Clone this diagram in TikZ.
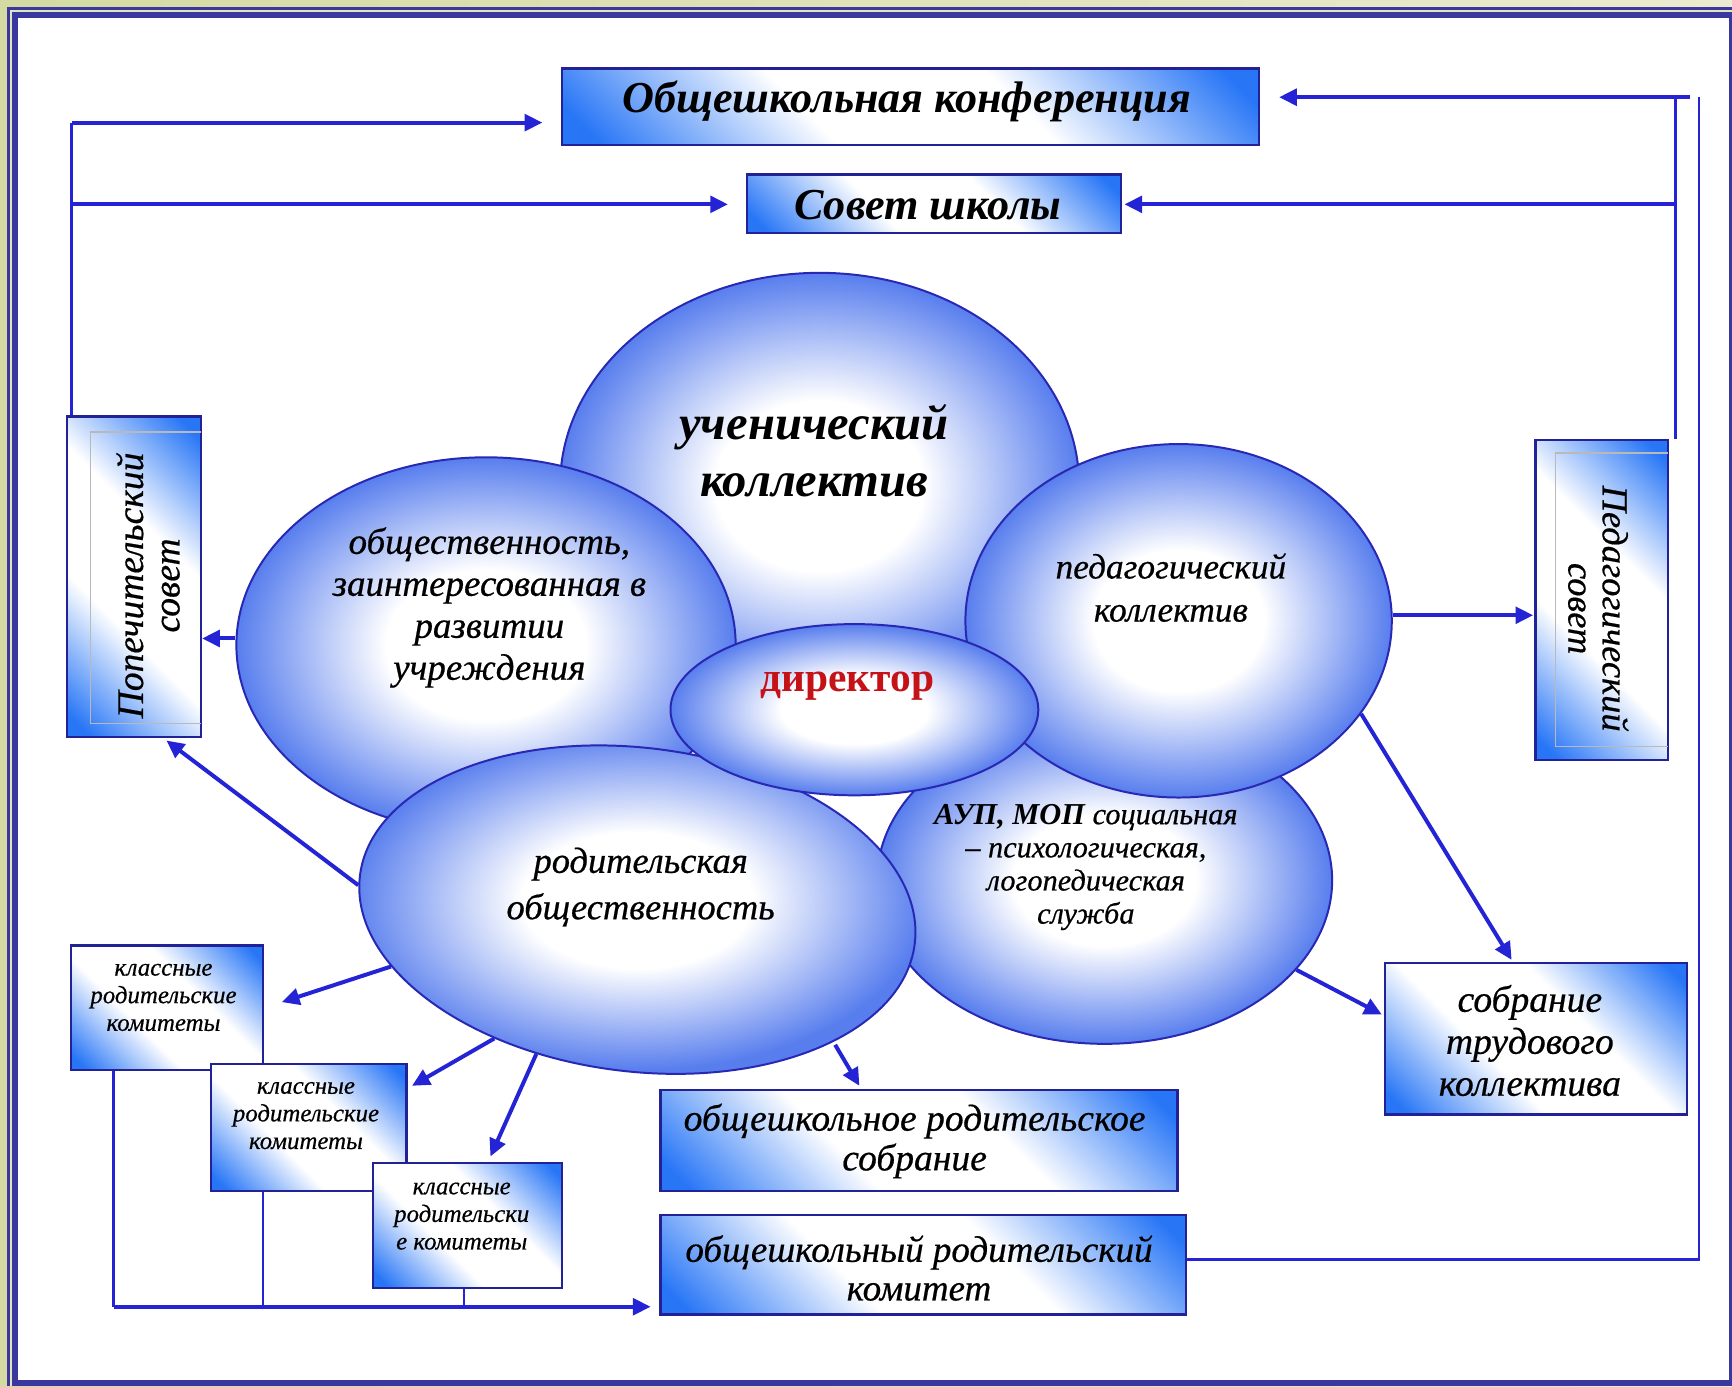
\documentclass[tikz,border=0pt]{standalone}
\usepackage{fontspec}
\setmainfont[ItalicFeatures={FakeBold=0.5}]{Liberation Serif}
\usetikzlibrary{arrows.meta,shapes.geometric,calc}
\definecolor{frameblue}{RGB}{56,56,158}
\definecolor{olivebg}{RGB}{212,218,162}
\definecolor{creambg}{RGB}{236,234,208}
\definecolor{lineblue}{RGB}{36,36,214}
\definecolor{boxedge}{RGB}{34,34,150}
\definecolor{elledge}{RGB}{40,40,180}
\definecolor{boxblue}{RGB}{40,118,246}
\definecolor{ellblue}{RGB}{88,126,238}
\definecolor{dirred}{RGB}{196,18,22}
\pgfdeclareverticalshading{boxshade}{100bp}{color(0bp)=(boxblue); color(18bp)=(boxblue); color(40bp)=(white); color(60bp)=(white); color(82bp)=(boxblue); color(100bp)=(boxblue)}
\pgfdeclareradialshading{ellshade}{\pgfpoint{0bp}{0bp}}{color(0bp)=(white); color(10bp)=(white); color(25bp)=(ellblue); color(50bp)=(ellblue)}
\begin{document}
\begin{tikzpicture}[x=1pt,y=-1pt,
  box/.style={rectangle, draw=boxedge, line width=2pt, shade, shading=boxshade, shading angle=-45, inner sep=0pt},
  ell/.style={ellipse, draw=elledge, line width=1.8pt, shade, shading=ellshade, inner sep=0pt},
  txt/.style={align=center, inner sep=0pt, text=black},
  arr/.style={draw=lineblue, line width=3.6pt, -{Triangle[length=16pt,width=15pt]}},
  ln/.style={draw=lineblue, line width=2.4pt},
]
\useasboundingbox (0,0) rectangle (1568,1255);
% frame
\shade[left color=olivebg, right color=creambg] (0,0) rectangle (1568,1255);
\fill[frameblue] (6.3,6.3) rectangle (1568,1255);
\draw[olivebg!70!white, line width=1.6pt] (9.9,1255) -- (9.9,9.9) -- (1568,9.9);
\fill[white] (16.3,16.3) rectangle (1565,1249);

% ellipses
\node[ell, minimum width=470pt, minimum height=386pt] (e1) at (742,440) {};
\node[ell, minimum width=412pt, minimum height=296pt] (e4) at (1000,797) {};
\node[ell, minimum width=386pt, minimum height=320pt] (e3) at (1067,562) {};
\node[ell, minimum width=452pt, minimum height=340pt] (e2) at (440,584) {};
\node[ell, minimum width=506pt, minimum height=293pt, rotate=-7] (e5) at (577,823.5) {};
\node[ell, minimum width=333pt, minimum height=155pt] (e6) at (773.5,642.5) {};

% boxes
\node[box, minimum width=631pt, minimum height=69pt] (konf) at (824.5,96.5) {};
\node[box, minimum width=339pt, minimum height=53pt] (sovet) at (845.5,184.5) {};
\node[box, minimum width=121pt, minimum height=290pt] (pop) at (121.5,522) {};
\node[box, minimum width=120pt, minimum height=290pt] (ped) at (1450,543) {};
\node[box, minimum width=174pt, minimum height=113pt] (b1) at (151,912.5) {};
\node[box, minimum width=177pt, minimum height=115pt] (b2) at (279.5,1020.5) {};
\node[box, minimum width=171pt, minimum height=113pt] (b3) at (423.5,1109.5) {};
\node[box, minimum width=468pt, minimum height=91pt] (sobr) at (832,1032.5) {};
\node[box, minimum width=476pt, minimum height=90pt] (kom) at (836,1145) {};
\node[box, minimum width=273pt, minimum height=137pt] (trud) at (1390.5,940.5) {};
\draw[gray!55, line width=1.2pt] (182,391) -- (82,391) -- (82,655) -- (182,655);
\draw[gray!55, line width=1.2pt] (1510,410) -- (1408,410) -- (1408,676) -- (1510,676);

% texts
\node[txt, font=\fontsize{40}{44}\selectfont\bfseries\itshape] (konft) at (821,92) {Общешкольная конференция};
\node[txt, font=\fontsize{40}{44}\selectfont\bfseries\itshape] (sovett) at (840,186) {Совет школы};
\node[txt, font=\fontsize{44}{52}\selectfont\bfseries\itshape] (e1t) at (737,408) {ученический\\коллектив};
\node[txt, font=\fontsize{33.5}{38}\selectfont\itshape] (e2t) at (443,550) {общественность,\\заинтересованная в\\развитии\\учреждения};
\node[txt, font=\fontsize{32}{39}\selectfont\itshape] (e3t) at (1060,532) {педагогический\\коллектив};
\node[txt, font=\fontsize{27.5}{30}\selectfont\itshape] (e4t) at (983,785) {{\bfseries АУП, МОП} социальная\\– психологическая,\\логопедическая\\служба};
\node[txt, font=\fontsize{33}{42}\selectfont\itshape] (e5t) at (580,803) {родительская\\общественность};
\node[txt, font=\fontsize{37.5}{42}\selectfont\bfseries, text=dirred] (e6t) at (767,621) {директор};
\node[txt, rotate=90, font=\fontsize{34}{33}\selectfont\itshape] (popt) at (134,530) {Попечительский\\совет};
\node[txt, rotate=-90, font=\fontsize{33}{31}\selectfont\itshape] (pedt) at (1447,551) {Педагогический\\совет};
\node[txt, font=\fontsize{22.5}{25}\selectfont\itshape] (b1t) at (148,903) {классные\\родительские\\комитеты};
\node[txt, font=\fontsize{22.5}{25}\selectfont\itshape] (b2t) at (277,1010) {классные\\родительские\\комитеты};
\node[txt, font=\fontsize{22.5}{25}\selectfont\itshape] (b3t) at (418,1101) {классные\\родительски\\е комитеты};
\node[txt, font=\fontsize{34}{36}\selectfont\itshape] (sobrt) at (828,1033) {общешкольное родительское\\собрание};
\node[txt, font=\fontsize{33.5}{35}\selectfont\itshape] (komt) at (832,1148) {общешкольный родительский\\комитет};
\node[txt, font=\fontsize{34}{38}\selectfont\itshape] (trudt) at (1385,942) {собрание\\трудового\\коллектива};

% connectors top-left
\coordinate (c1) at (65,111);
\coordinate (c2) at (65,185);
\draw[ln] (c1 |- pop.north) -- (c1);
\draw[arr, shorten >=17pt] (c1) -- (c1 -| konf.west);
\draw[arr, shorten >=16pt] (c2) -- (c2 -| sovet.west);
% connectors top-right
\coordinate (c3) at (1517,88);
\coordinate (c3e) at (1530,88);
\coordinate (c4) at (1517,185);
\draw[ln] (c3 |- ped.north) -- (c3);
\draw[arr, shorten >=17pt] (c3e) -- (c3e -| konf.east);
\draw[arr, shorten >=2pt] (c4) -- (c4 -| sovet.east);
\coordinate (c5) at (1538,88);
\coordinate (c6) at (1538,1140);
\draw[ln] (c6 -| kom.east) -- (c6) -- (c5);
% from ellipses
\path (e2.west) ++(0,-6) coordinate (a1);
\draw[arr] (a1) -- (a1 -| pop.east);
\draw[arr, shorten >=4pt] (e5.182) -- ($(pop.south)+(26,0)$);
\path (e3.east) ++(0,-5) coordinate (a2);
\draw[arr, shorten >=1pt] (a2) -- (a2 -| ped.west);
\draw[arr] (e3.-27) -- ($(trud.north)+(-22,-2)$);
\draw[arr] (e4.-25) -- ($(trud.west)+(-2,-22)$);
\draw[arr, shorten >=17pt] (e5.200) -- (b1.east);
\draw[arr] (e5.229) -- ($(b2.north east)+(4,21)$);
\draw[arr] (e5.242) -- ($(b3.north)+(20.5,-5)$);
\draw[arr, shorten <=3pt] (e5.-27) -- ($(sobr.north)+(-54,-3)$);
% bottom
\coordinate (c9) at (103,1183);
\coordinate (c10) at (238,1183);
\coordinate (c11) at (420,1183);
\draw[ln] (c9 |- b1.south) -- (c9);
\draw[arr, shorten >=8pt] (c9) -- (c9 -| kom.west);
\draw[ln] (c10 |- b2.south) -- (c10);
\draw[ln] (c11 |- b3.south) -- (c11);
\end{tikzpicture}
\end{document}
